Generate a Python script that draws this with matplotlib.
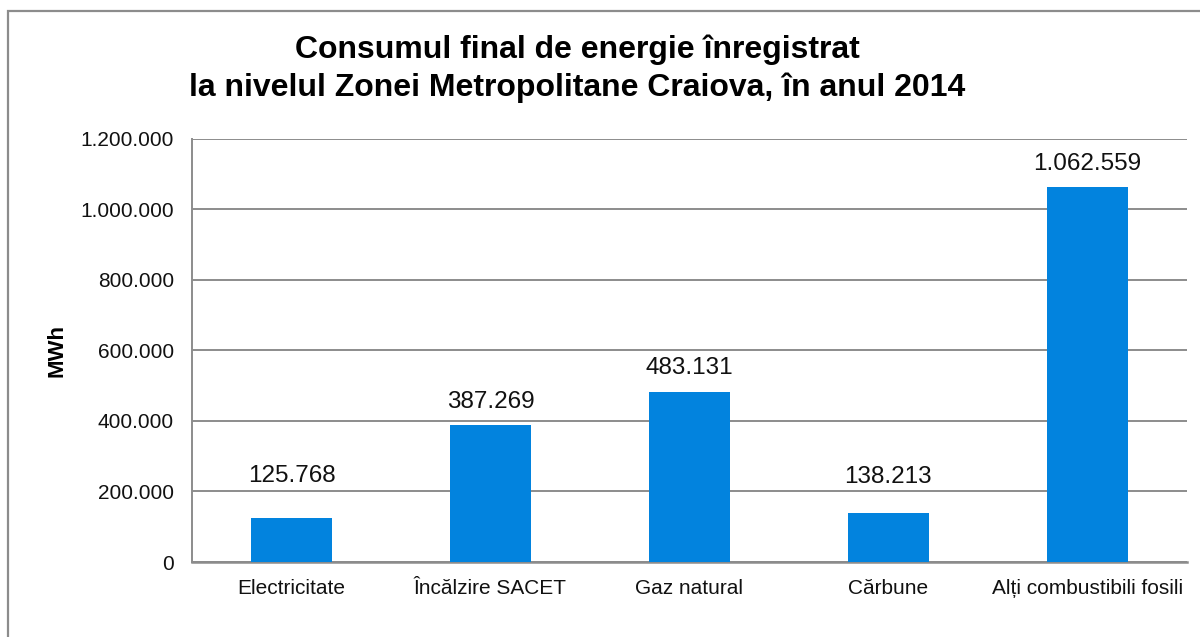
import matplotlib
matplotlib.use("Agg")
import matplotlib.pyplot as plt
from matplotlib.patches import Rectangle
from matplotlib.ticker import FuncFormatter

categories = ["Electricitate", "Încălzire SACET", "Gaz natural", "Cărbune",
              "Alți combustibili fosili"]
values = [125768, 387269, 483131, 138213, 1062559]
yticks = [0, 200000, 400000, 600000, 800000, 1000000, 1200000]

# label offsets above bars (points); small bars were lifted clear of the gridline
label_offsets = [22, 9, 9, 18, 9]

BAR = "#0283DE"
GRID = "#8C8C8C"


def dots(v, pos=None):
    # Romanian thousand separator
    return f"{int(v):,}".replace(",", ".")


plt.rcParams["font.family"] = ["Liberation Sans", "DejaVu Sans"]

fig = plt.figure(figsize=(12, 6.37), dpi=100)
ax = fig.add_axes([0.16, 0.1177, 0.829, 0.6645])

x = range(len(categories))
ax.bar(x, values, width=0.41, color=BAR, zorder=3)

for i, v, off in zip(x, values, label_offsets):
    ax.annotate(dots(v), (i, v), xytext=(0, off), textcoords="offset points",
                ha="center", va="bottom", fontsize=17.5, color="#111111")

ax.set_xlim(-0.5, len(categories) - 0.5)
ax.set_ylim(0, 1200000)
ax.set_yticks(yticks)
ax.yaxis.set_major_formatter(FuncFormatter(dots))
ax.set_xticks(list(x))
ax.set_xticklabels(categories)
ax.tick_params(axis="both", length=0, labelsize=15, colors="#111111")
ax.tick_params(axis="y", pad=13)
ax.tick_params(axis="x", pad=12)

ax.grid(axis="y", color=GRID, linewidth=1.4, zorder=0)
for s in ["top", "right"]:
    ax.spines[s].set_visible(False)
ax.spines["left"].set_color(GRID)
ax.spines["left"].set_linewidth(1.4)
ax.spines["bottom"].set_color(GRID)
ax.spines["bottom"].set_linewidth(1.8)

ax.set_ylabel("MWh", fontsize=16, fontweight="bold", labelpad=9)

fig.text(0.481, 0.892, "Consumul final de energie înregistrat\n"
         "la nivelul Zonei Metropolitane Craiova, în anul 2014",
         ha="center", va="center", fontsize=23, fontweight="bold",
         linespacing=1.3)

# outer chart frame
fig.patches.append(Rectangle((8 / 1200, -0.05), 1.2, 1 - 11 / 637 + 0.05,
                             transform=fig.transFigure, fill=False,
                             edgecolor="#8C8C8C", linewidth=1.6))

fig.savefig("out.png", dpi=100)
